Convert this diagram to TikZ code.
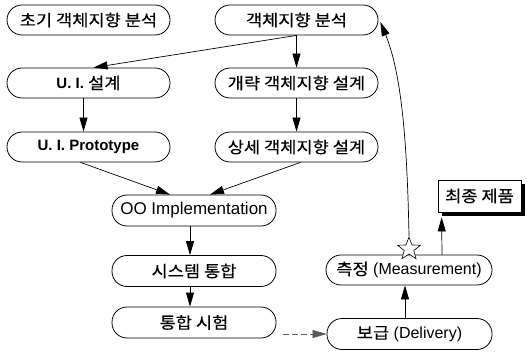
\documentclass[tikz,border=0pt]{standalone}
\usepackage{fontspec}
\setmainfont{Liberation Sans}
\newfontfamily\kr[FakeStretch=1.1,FakeBold=0.35]{Noto Sans CJK KR}
\usetikzlibrary{arrows.meta,shapes.geometric,shadows,calc}

\begin{document}
\begin{tikzpicture}[x=1pt,y=-1pt,
  every node/.style={inner sep=0pt},
  stage/.style={draw, line width=0.8pt, rounded corners=15pt, fill=white,
    minimum width=163pt, minimum height=30pt,
    font=\fontsize{16}{16}\selectfont},
  product/.style={draw, line width=0.8pt, fill=white,
    minimum width=83pt, minimum height=32pt,
    drop shadow={shadow xshift=4pt, shadow yshift=-4pt, fill=black, opacity=1},
    font=\fontsize{16}{16}\selectfont},
  flow/.style={line width=0.7pt, -{Triangle[length=14pt,width=8pt]}},
  handoff/.style={flow, dashed, dash pattern=on 6pt off 3pt, draw=black!65},
]
\useasboundingbox (0,0) rectangle (527,355);

% analysis and design stages
\node[stage] (A) at (88.5,20)  {\kr 초기 객체지향 분석};
\node[stage] (B) at (296.5,20) {\kr 객체지향 분석};
\node[stage] (C) at (88.5,83)  {\fontsize{15}{15}\selectfont\bfseries U. I. {\mdseries\fontsize{16}{16}\selectfont\kr 설계}};
\node[stage] (D) at (296.5,83) {\kr 개략 객체지향 설계};
\node[stage] (E) at (88.5,147) {\fontsize{15}{15}\selectfont\bfseries U. I. Prototype};
\node[stage] (F) at (296.5,147) {\kr 상세 객체지향 설계};

% implementation and integration
\node[stage, minimum width=164pt, minimum height=31pt,
      font=\fontsize{17}{17}\selectfont] (G) at (194,210.5) {OO Implementation};
\node[stage, minimum width=164pt, minimum height=31pt] (H) at (194,271)   {\kr 시스템 통합};
\node[stage, minimum width=164pt, minimum height=31pt] (I) at (194,322.5) {\kr 통합 시험};

% delivery, measurement and final product
\node[stage, minimum width=165pt, minimum height=31pt] (J) at (409.5,334) {{\kr 보급} (Delivery)};
\node[stage, minimum width=166pt] (K) at (409,270) {{\kr 측정} (Measurement)};
\node[product] (L) at (479.5,196) {\kr 최종 제품};

\node[star, star points=5, star point ratio=2.4, draw, fill=white,
      line width=0.6pt, minimum size=24pt] (pin) at (409,249) {};

% connectors
\draw[flow] (B.south) -- ([xshift=5pt]C.north);
\draw[flow] (B.south) -- (D.north);
\draw[flow] (D.south) -- (F.north);
\draw[flow] ([xshift=-5pt]C.south) -- ([xshift=-5pt]E.north);
\draw[flow] ([xshift=-8pt]E.south) -- ([xshift=-24pt]G.north);
\draw[flow] ([xshift=4pt]F.south) -- ([xshift=16pt]G.north);
\draw[flow] ([xshift=-4pt]G.south) -- ([xshift=-4pt]H.north);
\draw[flow] ([xshift=-4pt]H.south) -- ([xshift=-4pt]I.north);
\draw[handoff] ($(I.east |- J.west)+(7,0)$) -- (J.west);
\draw[flow] ([xshift=-4.5pt]J.north) -- ([xshift=-4pt]K.south);
\draw[flow] ([xshift=33pt]K.north) -- ([xshift=4pt,yshift=-5pt]L.south west);
\draw[flow] (pin.north) .. controls (407,130) and (400,70) .. ($(B.east)+(2,2)$);
\end{tikzpicture}
\end{document}
